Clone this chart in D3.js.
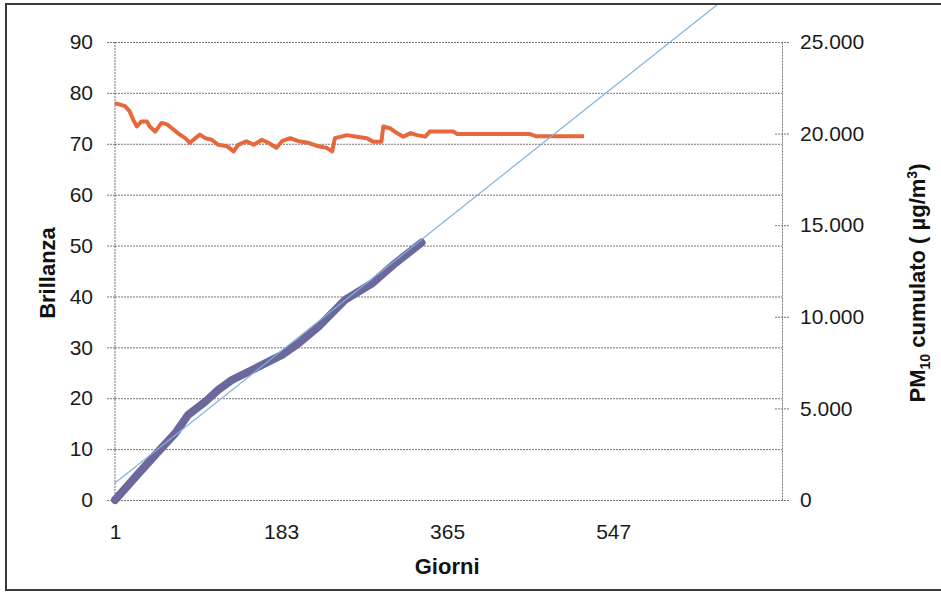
<!DOCTYPE html>
<html>
<head>
<meta charset="utf-8">
<title>Brillanza e PM10 cumulato</title>
<style>
    body { margin: 0; background: #ffffff; }
    .tick-label text { font-family: "Liberation Sans", Arial, sans-serif; font-size: 21px; fill: #1a1a1a; }
    .axis-title { font-family: "Liberation Sans", Arial, sans-serif; font-size: 22px; font-weight: bold; fill: #111; }
    .dotted { stroke: #7d7373; stroke-width: 1; stroke-dasharray: 2,1; }
</style>
<script src="https://d3js.org/d3.v7.min.js"></script>
</head>
<body>
<div id="chart"></div>
<script>
// tick labels
var dayTicks = [1, 183, 365, 547];
var leftTicks = [0, 10, 20, 30, 40, 50, 60, 70, 80, 90];
var rightTicks = [0, 5000, 10000, 15000, 20000, 25000];

// Brillanza (left axis)
var brillanzaDays = [1, 12, 17, 21, 25, 30, 36, 39, 45, 52, 58, 63, 72, 78, 83, 89, 94, 100, 107, 114,
    124, 131, 136, 145, 153, 162, 169, 178, 184, 193, 202, 213, 224, 233, 239, 242, 251, 255, 266, 277,
    284, 293, 295, 303, 310, 317, 325, 332, 341, 346, 372, 376, 456, 462, 515];
var brillanzaValues = [78.0, 77.4, 76.4, 74.7, 73.4, 74.4, 74.4, 73.4, 72.4, 74.1, 73.8, 73.1, 71.8, 71.1, 70.2, 71.1, 71.8, 71.1, 70.8, 69.8,
    69.5, 68.5, 69.8, 70.5, 69.8, 70.8, 70.2, 69.2, 70.5, 71.1, 70.5, 70.2, 69.5, 69.2, 68.5, 71.1, 71.5, 71.7, 71.4, 71.1,
    70.4, 70.4, 73.4, 73.0, 72.1, 71.4, 72.1, 71.7, 71.4, 72.4, 72.4, 71.9, 71.9, 71.5, 71.5];

// PM10 cumulato (right axis)
var pmDays = [1, 27, 50, 67, 81, 100, 114, 129, 155, 184, 202, 224, 253, 283, 308, 337];
var pmValues = [0, 1460, 2730, 3640, 4640, 5370, 6000, 6550, 7190, 7920, 8550, 9460, 10920, 11830, 12920, 14050];

// linear trend of PM10 cumulato
var trendDays = [1, 760];
var trendIntercept = 888;
var trendSlope = 39.56;

var W = 941, H = 593;
var margin = { top: 42, left: 115 };
var width = 667, height = 458;

var itFormat = d3.formatLocale({ decimal: ",", thousands: ".", grouping: [3], currency: ["", " €"] }).format(",d");

var svg = d3.select('#chart').append('svg')
    .attr('width', W)
    .attr('height', H);

svg.append('defs').append('clipPath')
    .attr('id', 'frame-clip')
    .append('rect')
    .attr('x', 6).attr('y', 5)
    .attr('width', W - 6).attr('height', H - 8);

svg.append('rect')
    .attr('x', 6).attr('y', 4)
    .attr('width', W + 4).attr('height', 586)
    .attr('fill', 'none')
    .attr('stroke', '#3a3a3a')
    .attr('stroke-width', 2);

var g = svg.append('g')
    .attr('transform', 'translate(' + margin.left + ',' + margin.top + ')');

var x = d3.scaleLinear().domain([1, 732]).range([0, width]);
var yLeft = d3.scaleLinear().domain([0, 90]).range([height, 0]);
var yRight = d3.scaleLinear().domain([0, 25000]).range([height, 0]);

// gridlines
g.append('g')
    .call(d3.axisLeft(yLeft).tickValues(leftTicks).tickSize(-width).tickFormat(''))
    .call(function(s) {
        s.select('.domain').remove();
        s.selectAll('line').attr('class', 'dotted');
    });

// left axis
g.append('g')
    .attr('class', 'tick-label')
    .call(d3.axisLeft(yLeft).tickValues(leftTicks).tickSizeInner(8).tickSizeOuter(0).tickPadding(14))
    .call(function(s) {
        s.select('.domain').attr('class', 'dotted').attr('d', 'M0,0V' + (height + 3));
        s.selectAll('line').attr('class', 'dotted');
        s.selectAll('text').attr('font-family', null).attr('font-size', null);
    });

// right axis
g.append('g')
    .attr('class', 'tick-label')
    .attr('transform', 'translate(' + width + ',0)')
    .call(d3.axisRight(yRight).tickValues(rightTicks).tickSizeInner(7).tickSizeOuter(0).tickPadding(11).tickFormat(itFormat))
    .call(function(s) {
        s.select('.domain').attr('class', 'dotted');
        s.selectAll('line').attr('class', 'dotted').attr('x1', -7);
        s.selectAll('text').attr('font-family', null).attr('font-size', null);
    });

// bottom axis labels
g.append('g')
    .attr('class', 'tick-label')
    .attr('transform', 'translate(0,' + height + ')')
    .call(d3.axisBottom(x).tickValues(dayTicks).tickSize(0).tickPadding(24).tickFormat(d3.format('d')))
    .call(function(s) {
        s.select('.domain').remove();
        s.selectAll('text').attr('font-family', null).attr('font-size', null);
    });

// Brillanza line
var brData = brillanzaDays.map(function(d, i) { return { day: d, v: brillanzaValues[i] }; });
g.append('path')
    .datum(brData)
    .attr('fill', 'none')
    .attr('stroke', '#e6683c')
    .attr('stroke-width', 4)
    .attr('stroke-linejoin', 'round')
    .attr('d', d3.line().x(function(d) { return x(d.day); }).y(function(d) { return yLeft(d.v); }));

// PM10 line
var pmData = pmDays.map(function(d, i) { return { day: d, v: pmValues[i] }; });
g.append('path')
    .datum(pmData)
    .attr('fill', 'none')
    .attr('stroke', '#6b699b')
    .attr('stroke-width', 8)
    .attr('stroke-linejoin', 'round')
    .attr('stroke-linecap', 'round')
    .attr('d', d3.line().x(function(d) { return x(d.day); }).y(function(d) { return yRight(d.v); }));

// trend line, runs past the plot up to the frame
var trendData = trendDays.map(function(d) { return { day: d, v: trendIntercept + trendSlope * d }; });
svg.append('g')
    .attr('clip-path', 'url(#frame-clip)')
    .append('path')
    .datum(trendData)
    .attr('transform', 'translate(' + margin.left + ',' + margin.top + ')')
    .attr('fill', 'none')
    .attr('stroke', '#7fb1de')
    .attr('stroke-width', 1.2)
    .attr('d', d3.line().x(function(d) { return x(d.day); }).y(function(d) { return yRight(d.v); }));

// axis titles
g.append('text')
    .attr('class', 'axis-title')
    .attr('x', x(365))
    .attr('y', height + 74)
    .attr('text-anchor', 'middle')
    .text('Giorni');

svg.append('text')
    .attr('class', 'axis-title')
    .attr('transform', 'translate(55,273) rotate(-90)')
    .attr('text-anchor', 'middle')
    .text('Brillanza');

var rt = svg.append('text')
    .attr('class', 'axis-title')
    .attr('transform', 'translate(925,283) rotate(-90)')
    .attr('text-anchor', 'middle');
rt.append('tspan').text('PM');
rt.append('tspan').attr('font-size', 14).attr('baseline-shift', -5).text('10');
rt.append('tspan').text(' cumulato ( µg/m');
rt.append('tspan').attr('font-size', 14).attr('baseline-shift', 8).text('3');
rt.append('tspan').text(')');
</script>
</body>
</html>
